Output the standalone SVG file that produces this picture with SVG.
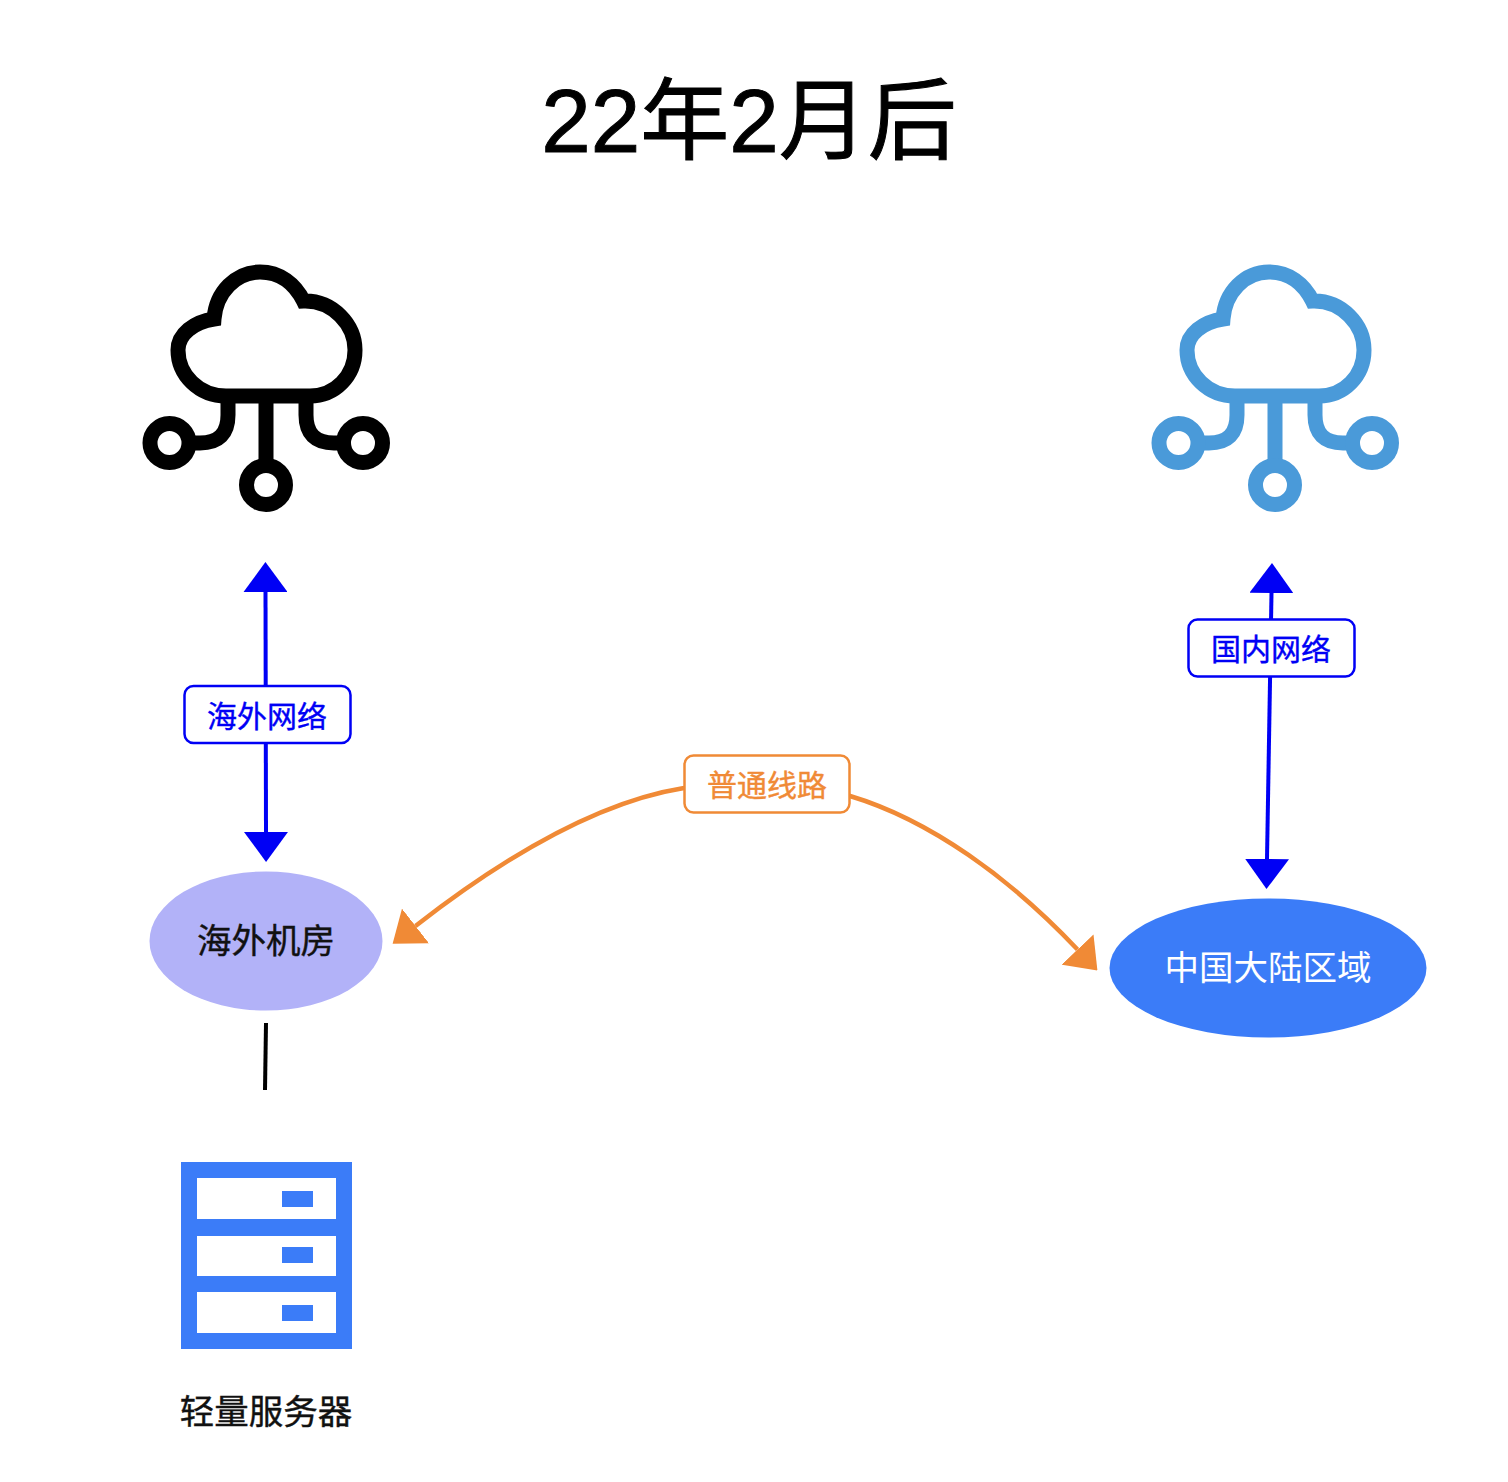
<svg xmlns="http://www.w3.org/2000/svg" width="1508" height="1482" viewBox="0 0 1508 1482">
<style>
text{font-family:"Liberation Sans","Noto Sans CJK SC",sans-serif;text-anchor:middle}
.cjk{font-family:"Noto Sans CJK SC",sans-serif;font-weight:400}
.ic{fill:none;stroke-width:15}
.lb{fill:#fff;stroke-width:2.5}
.blue{fill:none;stroke:#0000f5;stroke-width:4}
.or{fill:none;stroke:#f08a36;stroke-width:4.500}
</style>
<defs>
<marker id="ab" markerUnits="userSpaceOnUse" viewBox="0 0 30 44" markerWidth="30" markerHeight="44" refX="0" refY="22" orient="auto-start-reverse"><path d="M0 0L30 22L0 44Z" fill="#0000f5"/></marker>
<marker id="ao" markerUnits="userSpaceOnUse" viewBox="0 0 29 44" markerWidth="29" markerHeight="44" refX="0" refY="22" orient="auto-start-reverse"><path d="M0 0L29 22L0 44Z" fill="#f08a36"/></marker>
<g id="cloud">
<path d="M310 396H226C199 396 178 375 178 350C178 334 194 322 214 319C216 292 236 272 260 272C280 272 295 284 303.500 301C333 300 355 325 355 350C355 376 335 396 310 396Z"/>
<path d="M266 396V468M228 396V415Q228 443 200 443H188M306 396V415Q306 443 334 443H345"/>
<circle cx="266" cy="485" r="19.500"/><circle cx="169.500" cy="443" r="19.500"/><circle cx="363" cy="443" r="19.500"/>
</g>
</defs>
<rect width="1508" height="1482" fill="#fff"/>
<g id="title"><text x="749" y="152" font-size="89" fill="#000" stroke="#000" stroke-width="1">22年2月后</text></g>
<g id="connectors">
<path class="blue" d="M265.500 592L266 832" marker-start="url(#ab)" marker-end="url(#ab)"/>
<path class="blue" d="M1271.500 593L1267 859" marker-start="url(#ab)" marker-end="url(#ab)"/>
<path class="or" d="M415.500 926C490 868 590 803 684 788C710 783 800 780 850 796C930 820 1010 878 1077.500 949.500" marker-start="url(#ao)" marker-end="url(#ao)"/>
<path d="M266 1023L265 1090" fill="none" stroke="#000" stroke-width="4"/>
</g>
<g id="cloud-overseas"><use href="#cloud" class="ic" stroke="#000"/></g>
<g id="cloud-domestic"><use href="#cloud" class="ic" stroke="#4a9ad9" x="1009"/></g>
<g id="label-overseas-net"><rect class="lb" x="184.500" y="686" width="166" height="57" rx="9" stroke="#0000f5"/><text class="cjk" x="267" y="727" font-size="30" fill="#0000f5" stroke="#0000f5" stroke-width=".4">海外网络</text></g>
<g id="label-domestic-net"><rect class="lb" x="1188.500" y="619.500" width="166" height="57" rx="9" stroke="#0000f5"/><text class="cjk" x="1271" y="660" font-size="30" fill="#0000f5" stroke="#0000f5" stroke-width=".4">国内网络</text></g>
<g id="label-normal"><rect class="lb" x="684.500" y="755.500" width="165" height="57" rx="9" stroke="#f08a36"/><text class="cjk" x="767" y="796" font-size="30" fill="#f08a36" stroke="#f08a36" stroke-width=".4">普通线路</text></g>
<g id="node-overseas"><ellipse cx="266" cy="941" rx="116.500" ry="69.500" fill="#b2b2f8"/><text class="cjk" x="266" y="953" font-size="34.500" fill="#111" stroke="#111" stroke-width=".4">海外机房</text></g>
<g id="node-china"><ellipse cx="1268" cy="968" rx="158.500" ry="69.500" fill="#3b7cf8"/><text class="cjk" x="1268" y="980" font-size="34.500" fill="#fff">中国大陆区域</text></g>
<g id="node-server">
<path fill="#3b7cf8" fill-rule="evenodd" d="M181 1162H352V1349H181ZM197 1178V1219H336V1178ZM197 1236V1276H336V1236ZM197 1292V1333H336V1292Z"/>
<path fill="#3b7cf8" d="M282 1191h31v16h-31zM282 1247h31v16h-31zM282 1305h31v16h-31z"/>
<text class="cjk" x="266" y="1424" font-size="34.500" fill="#111" stroke="#111" stroke-width=".4">轻量服务器</text>
</g>
</svg>
